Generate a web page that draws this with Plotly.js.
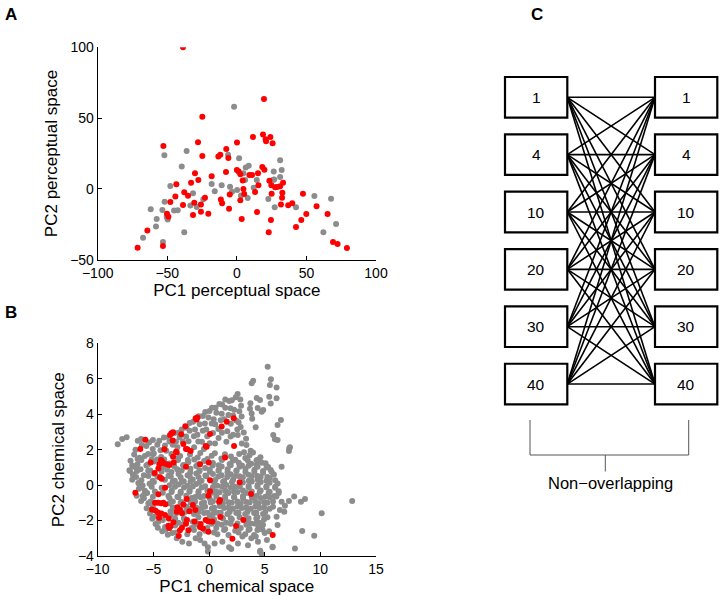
<!DOCTYPE html>
<html>
<head>
<meta charset="utf-8">
<script src="https://cdn.plot.ly/plotly-3.0.1.min.js"></script>
<style>html,body{margin:0;padding:0;background:#fff;}#chart{width:723px;height:602px;}</style>
</head>
<body>
<div id="chart"></div>
<script>
// ---------- Panel A: perceptual space ----------
const perceptualGray = [[-2.0,58.0],[-52.1,23.7],[-36.1,26.8],[-39.6,15.9],[-6.3,24.2],[1.6,21.6],[6.4,15.2],[8.5,16.4],[31.1,20.2],[32.2,13.3],[26.5,12.2],[31.1,8.4],[26.2,6.5],[0.2,-0.8],[-4.9,1.6],[-10.9,2.5],[-18.1,3.5],[-15.9,-1.7],[-31.5,-3.1],[-47.8,2.0],[-51.9,-9.0],[-53.5,-14.9],[-61.9,-14.4],[-57.6,-21.3],[-58.1,-26.5],[-67.4,-34.5],[-49.7,-21.6],[-50.4,-19.8],[-45.1,-15.3],[-42.5,-15.1],[-33.4,-11.7],[-28.8,-12.7],[-24.1,-7.3],[-37.8,-30.7],[-53.1,-37.5],[-3.5,-2.0],[3.0,-4.6],[7.8,-6.4],[12.1,0.9],[22.6,-7.1],[27.2,-13.0],[42.5,-13.0],[55.7,-5.0],[67.7,-6.9],[62.2,-30.7],[71.3,-24.8],[5.9,6.3],[4.7,11.0],[14.3,6.3],[26.9,6.7]];
const perceptualRed = [[-38.7,100],[19.5,63.5],[-24.8,51.0],[-52.8,30.3],[-27.9,32.9],[0.1,32.7],[11.6,36.7],[18.8,38.5],[20.7,35.0],[21.0,33.6],[24.1,36.7],[25.7,32.2],[-7.6,28.2],[-13.3,22.8],[-11.9,24.2],[-6.1,21.8],[-24.8,23.2],[-30.1,11.0],[-27.7,6.3],[-32.9,4.4],[-43.5,3.2],[-18.1,8.9],[-7.8,11.9],[0.0,13.3],[1.3,12.2],[2.5,10.3],[4.2,6.0],[4.7,-0.1],[9.0,9.8],[10.9,9.8],[15.2,11.0],[15.5,2.5],[18.3,15.5],[19.8,13.6],[23.4,5.8],[24.8,2.5],[27.5,1.1],[28.9,1.3],[31.1,1.8],[33.2,4.4],[32.7,-2.7],[32.5,-6.2],[31.7,-11.1],[25.0,-3.4],[24.5,-22.0],[22.9,-30.7],[14.5,-16.3],[13.1,-2.2],[5.3,-3.6],[2.5,-8.1],[3.5,-21.3],[-5.1,-3.9],[-5.6,-14.0],[-10.6,-10.2],[-11.5,-7.4],[-22.9,-6.2],[-20.5,-17.5],[-25.8,-16.1],[-31.5,-18.4],[-25.8,-11.1],[-30.6,-9.7],[-35.1,-4.8],[-37.8,-2.4],[-38.7,-11.4],[-44.2,-5.3],[-47.8,-9.3],[-50.2,-17.5],[-49.2,-19.6],[-53.1,-40.3],[-64.3,-29.3],[-71.3,-41.5],[36.9,-11.6],[39.8,-10.2],[47.5,-3.4],[49.9,-17.7],[46.3,-22.0],[42.5,-26.9],[57.3,-12.3],[65.2,-17.7],[69.1,-37.5],[72.4,-38.9],[79.1,-41.8]];

// ---------- Panel B: chemical space ----------
const chemicalGray = [
[-8.2,2.3],[-7.8,2.6],[-7.4,2.7],[-7.1,0.8],[-6.9,1.1],[-6.6,2.0],[-6.4,2.5],[-6.1,2.6],[-6.6,1.0],[-6.8,0.6],[-6.9,0.3],[-6.3,0.1],[-6.5,-0.6],[-6.1,-0.9],[-6.3,-0.2],[-5.8,-0.5],[-5.6,-1.3],[-5.3,-1.6],[-5.1,-1.9],[-4.8,-2.2],[-4.6,-2.4],[-4.2,-2.6],[-3.9,-2.5],[-3.7,-2.8],[-3.3,-2.7],[-2.9,-3.0],[-2.4,-3.2],[-1.8,-3.3],[-1.2,-3.0],[-0.8,-3.1],[-0.4,-3.3],[-0.1,-3.5],[-0.1,-3.75],[0.5,-3.3],[1.2,-3.2],[1.8,-3.5],[2.0,-3.6],[2.6,-3.3],[3.0,-2.9],[3.5,-3.4],[3.8,-3.0],[4.2,-2.9],[4.4,-3.2],[4.6,-3.7],[4.75,-3.9],[5.0,-2.7],[5.2,-3.1],[5.7,-3.5],[5.4,-2.6],[4.8,-2.5],[6.07,-1.78],[6.16,-2.25],[6.37,-1.41],[6.52,-0.94],[6.76,-1.50],[6.82,-1.16],[7.18,-0.90],[7.65,-0.65],[8.26,-0.94],[8.62,-0.78],[10.12,-1.59],[12.86,-0.90],[8.37,-2.59],[9.45,-2.86],[7.72,-3.57],[5.72,-3.48],[4.58,-3.76],
[5.27,6.68],[3.83,5.74],[3.97,5.89],[5.56,5.97],[5.47,5.65],[6.07,5.50],[2.57,5.14],[4.28,4.91],[4.58,4.80],[4.37,4.35],[4.87,4.24],[4.73,4.14],[5.41,4.99],[5.54,4.61],[6.07,4.90],[6.46,3.67],[6.16,3.39],[4.19,3.26],[5.77,2.83],[5.92,2.58],[6.16,2.54],[7.27,2.13],[7.21,2.08],[7.18,1.92],[6.52,1.04],[5.54,0.85],
[3.72,4.62],[3.68,4.31],[3.83,4.04],[3.88,3.74],[2.81,4.83],[2.88,4.47],[2.72,4.16],[2.93,3.87],[2.66,3.55],[2.84,3.28],[3.12,2.97],[2.58,2.83],[3.33,2.62],
[2.4,4.95],[2.05,4.78],[1.82,4.74],[1.46,4.83],[1.17,4.55],[0.93,4.58],[0.58,4.36],[0.27,4.37],[0.04,4.18],[-0.34,4.12],[-0.55,3.90],[-0.93,3.88],[-1.42,3.57],[-1.74,3.50],[-2.03,3.24],[-2.45,3.14],[-2.76,2.96],[-3.14,2.93],[-3.63,2.70],[-4.05,2.68],[-4.47,2.50],[-5.04,2.54],[-5.38,2.40],
[1.93,4.33],[1.46,4.36],[1.14,4.02],[0.66,4.08],[0.42,3.72],[-0.05,3.81],[-0.37,3.47],[-0.84,3.44],[-1.26,3.14],[-1.74,3.06],[-2.06,2.74],[-2.64,2.70],[-2.97,2.44],[-3.55,2.46],[-3.96,2.24],[-4.64,2.27],[-5.06,2.04],[-5.63,2.21],[-6.04,2.26],
[2.26,4.25],[2.16,3.93],[1.75,3.96],[1.37,3.72],[1.05,3.66],[0.56,3.43],[0.24,3.47],[-0.25,3.14],[-0.56,3.06],[-1.04,2.84],[-1.36,2.76],[-1.84,2.48],[-2.36,2.46],[-2.84,2.14],[-3.26,2.27],[-3.84,1.94],[-4.36,1.97],[-5.04,1.74],[-5.46,1.76],[-6.24,1.55],
[2.44,3.64],[1.96,3.46],[1.64,3.04],[1.16,2.95],[0.84,3.16],[0.36,2.94],[-0.16,2.76],[-0.64,2.44],[-0.96,2.46],[-1.34,2.14],[2.54,3.14],[2.16,2.84],[1.94,2.74],[1.56,2.44],[0.86,2.66],[0.54,2.34],[0.06,2.36],[-0.46,2.04],[2.94,2.34],[3.36,2.26],[3.74,1.94],[3.96,1.84],[4.44,1.44],[4.76,1.26],[3.14,1.86],
[-6.72,1.72],[-6.41,1.47],[-5.77,1.64],[-5.16,1.45],[-4.96,1.78],[-4.30,1.58],[-4.03,1.44],[-3.38,1.76],[-2.83,1.52],[-2.59,1.64],[-1.90,1.41],[-1.71,1.73],[-1.02,1.56],[-0.78,1.81],[-0.15,1.47],[0.24,1.66],[0.52,1.79],[1.11,1.50],[1.43,1.74],[1.97,1.61],[2.36,1.43],[2.71,1.75],[3.26,1.53],[3.64,1.68],[4.27,1.40],[4.62,1.57],
[-7.05,1.38],[-6.43,1.17],[-6.07,1.42],[-5.51,1.16],[-4.93,1.33],[-4.68,1.45],[-3.55,1.22],[-2.78,1.41],[-2.24,1.13],[-1.86,1.29],[-1.33,1.44],[-0.97,1.18],[-0.44,1.36],[0.35,1.25],[0.87,1.12],[1.16,1.42],[1.85,1.19],[2.13,1.37],[2.67,1.26],[2.96,1.10],[3.47,1.40],[3.79,1.21],[4.27,1.15],[4.54,1.36],[5.08,1.23],[5.31,1.02],
[-7.15,0.84],[-6.76,1.06],[-6.15,0.90],[-5.63,1.10],[-5.28,0.83],[-4.14,1.02],[-3.75,0.86],[-3.13,1.07],[-2.86,0.89],[-2.33,1.12],[-1.67,0.92],[-1.15,1.08],[-0.86,0.84],[-0.35,0.97],[0.06,0.88],[0.33,1.11],[0.87,0.85],[1.14,1.05],[1.67,0.90],[1.95,1.12],[2.46,0.82],[2.74,1.03],[3.28,0.91],[3.55,1.09],[4.08,0.86],[4.36,1.04],[4.85,0.80],[5.17,0.99],[5.63,0.74],
[-6.84,0.58],[-6.47,0.79],[-5.85,0.55],[-5.46,0.81],[-4.94,0.64],[-4.26,0.77],[-3.64,0.53],[-3.37,0.74],[-2.74,0.63],[-2.46,0.82],[-1.93,0.56],[-1.68,0.73],[-1.14,0.65],[-0.86,0.78],[-0.33,0.54],[0.07,0.75],[0.35,0.62],[0.86,0.81],[1.13,0.55],[1.66,0.72],[1.94,0.61],[2.47,0.79],[2.74,0.50],[3.27,0.74],[3.55,0.58],[4.07,0.76],[4.36,0.52],[4.86,0.69],[5.24,0.46],[5.83,0.60],
[-6.55,0.45],[-6.08,0.28],[-5.45,0.52],[-5.06,0.24],[-4.63,0.47],[-3.96,0.30],[-3.43,0.48],[-3.07,0.25],[-2.55,0.44],[-2.27,0.22],[-1.74,0.50],[-1.46,0.31],[-0.94,0.46],[-0.67,0.24],[-0.24,0.50],[0.56,0.29],[0.84,0.49],[1.36,0.23],[1.64,0.45],[2.16,0.30],[2.35,0.52],[3.04,0.44],[3.57,0.25],[3.85,0.50],[4.36,0.31],[4.64,0.46],[5.16,0.24],[5.46,0.40],[5.94,0.27],
[-6.35,0.12],[-5.96,-0.02],[-5.34,0.07],[-4.95,0.18],[-3.55,-0.01],[-3.26,0.21],[-2.74,0.04],[-2.46,0.17],[-1.95,-0.03],[-1.66,0.20],[-1.15,0.06],[-0.86,0.16],[-0.35,-0.06],[0.46,0.15],[0.74,-0.04],[1.26,0.19],[1.55,0.01],[2.06,0.16],[2.35,-0.10],[3.04,0.14],[3.56,-0.05],[3.84,0.21],[4.36,0.00],[4.65,0.17],[5.15,-0.06],[5.44,0.13],[5.95,-0.10],[6.16,0.09],
[-6.14,-0.14],[-5.76,-0.32],[-5.15,-0.10],[-4.86,-0.36],[-4.25,-0.15],[-3.35,-0.31],[-3.06,-0.09],[-2.54,-0.37],[-2.25,-0.13],[-1.74,-0.30],[-1.45,-0.08],[-0.94,-0.35],[-0.65,-0.14],[-0.15,-0.32],[0.35,-0.12],[0.64,-0.37],[1.16,-0.10],[1.45,-0.31],[1.95,-0.15],[2.25,-0.38],[2.76,-0.08],[3.05,-0.30],[3.56,-0.13],[3.84,-0.36],[4.35,-0.09],[4.65,-0.31],[5.16,-0.14],[5.45,-0.37],[5.94,-0.15],[6.26,-0.35],
[-5.95,-0.62],[-5.56,-0.44],[-5.04,-0.66],[-4.15,-0.43],[-3.65,-0.61],[-3.36,-0.39],[-2.84,-0.66],[-2.55,-0.44],[-2.04,-0.60],[-1.76,-0.38],[-1.24,-0.67],[-0.95,-0.45],[-0.44,-0.62],[0.26,-0.43],[0.66,-0.65],[0.95,-0.40],[1.45,-0.61],[1.75,-0.44],[2.26,-0.67],[2.55,-0.39],[3.05,-0.62],[3.35,-0.45],[4.25,-0.61],[4.55,-0.39],[5.06,-0.66],[5.35,-0.44],[5.86,-0.61],[6.25,-0.45],
[-5.85,-0.74],[-5.25,-0.92],[-3.55,-0.73],[-3.25,-0.93],[-2.75,-0.69],[-2.45,-0.96],[-1.55,-0.73],[-1.25,-0.92],[-0.75,-0.68],[-0.45,-0.97],[0.05,-0.74],[0.35,-0.91],[1.45,-0.73],[1.75,-0.97],[2.25,-0.69],[2.55,-0.92],[3.05,-0.74],[3.35,-0.96],[3.85,-0.70],[4.15,-0.91],[4.65,-0.73],[4.95,-0.97],[5.45,-0.69],[5.75,-0.92],[6.05,-0.65],
[-5.45,-1.03],[-5.05,-1.22],[-3.55,-1.04],[-3.25,-1.26],[-2.55,-0.99],[-2.05,-1.22],[-1.65,-0.99],[-1.15,-1.27],[-0.65,-1.04],[-0.35,-1.22],[0.15,-0.98],[0.45,-1.27],[0.95,-1.18],[1.25,-1.03],[1.75,-1.27],[2.05,-0.99],[2.55,-1.22],[2.85,-1.03],[3.35,-1.27],[3.65,-0.98],[4.15,-1.22],[4.45,-1.03],[4.95,-1.26],[5.25,-0.99],[5.75,-1.22],
[-5.15,-1.38],[-3.45,-1.47],[-3.15,-1.29],[-2.15,-1.52],[-1.65,-1.33],[-0.95,-1.52],[-0.65,-1.29],[-0.15,-1.56],[0.25,-1.33],[0.55,-1.52],[1.05,-1.56],[1.35,-1.29],[1.85,-1.52],[2.15,-1.33],[2.65,-1.56],[2.95,-1.29],[3.45,-1.52],[3.75,-1.33],[4.25,-1.56],[4.55,-1.29],[5.05,-1.52],[5.45,-1.33],
[-4.85,-1.77],[-3.45,-1.68],[-2.95,-1.59],[-2.25,-1.87],[-1.35,-1.63],[-0.95,-1.82],[-0.45,-1.58],[0.05,-1.82],[0.35,-1.63],[0.85,-1.58],[1.15,-1.82],[1.65,-1.63],[1.95,-1.87],[2.45,-1.58],[2.75,-1.82],[3.25,-1.63],[3.55,-1.87],[4.05,-1.58],[4.35,-1.82],[4.85,-1.63],[5.25,-1.82],
[-4.55,-2.07],[-4.15,-1.97],[-3.05,-1.88],[-2.75,-2.12],[-2.25,-1.88],[-1.45,-2.07],[-1.05,-2.17],[0.45,-1.93],[0.75,-2.17],[1.25,-1.88],[1.55,-2.12],[2.05,-1.93],[2.55,-2.17],[3.45,-1.93],[3.75,-2.17],[4.25,-1.88],[4.55,-2.12],[4.95,-1.93],
[-3.95,-2.37],[-3.05,-2.28],[-2.25,-2.18],[-1.55,-2.42],[-1.25,-2.23],[-0.15,-2.42],[0.25,-2.18],[0.65,-2.42],[1.15,-2.23],[1.45,-2.47],[1.95,-2.18],[2.85,-2.42],[3.35,-2.23],[3.65,-2.47],[4.15,-2.18],[4.45,-2.42],[4.85,-2.23],
[-2.95,-2.67],[-1.95,-2.77],[-1.35,-2.53],[-0.85,-2.77],[-0.35,-2.58],[0.45,-2.67],[0.75,-2.77],[1.35,-2.53],[1.75,-2.82],[2.35,-2.58],[2.65,-2.67],[3.25,-2.77],[3.55,-2.53],[4.05,-2.82],[4.35,-2.53]
];
const chemicalRed = [[-5.72,2.56],[-6.17,2.04],[-6.62,-0.43],[-5.24,1.27],[-4.88,0.68],[-4.31,1.42],[-4.19,1.32],[-4.07,1.23],[-4.46,1.17],[-3.80,1.17],[-3.56,1.13],[-4.55,0.94],[-4.40,0.44],[-4.25,0.36],[-3.95,-0.15],[-4.55,-0.52],[-4.85,-1.00],[-4.58,-1.00],[-4.31,-1.02],[-4.10,-0.99],[-3.92,-1.08],[-5.12,-1.37],[-4.82,-1.43],[-4.58,-1.55],[-4.28,-1.60],[-3.95,-1.69],[-4.49,-1.84],[-3.62,-1.88],[-3.65,-2.29],[-3.58,-2.42],[-3.47,-2.33],[-2.43,-2.40],[-2.61,-2.55],[-2.72,-2.87],[-3.17,1.27],[-3.23,1.60],[-2.90,1.85],[-3.26,2.51],[-3.50,2.83],[-3.38,2.92],[-3.23,2.98],[-2.49,2.87],[-2.13,3.32],[-1.20,3.77],[-1.05,3.82],[-1.12,3.70],[-2.31,2.32],[-2.07,2.04],[-1.65,1.92],[-1.95,2.02],[-4.01,2.02],[-2.96,1.88],[-0.21,2.17],[1.44,1.56],[-2.07,1.04],[-0.81,1.17],[-0.03,1.28],[0.09,0.28],[-2.01,-0.79],[0.09,-0.34],[-0.06,-0.60],[0.99,-0.84],[0.90,-0.94],[-2.84,-1.25],[-2.61,-1.37],[-2.43,-1.59],[-1.77,-1.48],[-1.98,-1.97],[-2.07,-2.18],[-1.23,-1.41],[-0.75,-2.20],[-0.81,-2.36],[-0.30,-1.97],[-0.06,-2.06],[-0.06,-2.63],[-0.30,2.21],[0.09,2.88],[1.02,-1.80],[1.59,3.58],[1.14,3.30],[2.22,3.77],[2.25,2.21],[2.75,0.16],[3.77,-0.50],[3.08,-1.97],[2.43,-2.31],[2.10,-3.02],[5.72,-2.82],[-1.45,-1.12],[-1.30,-2.05],[-2.90,-1.50],[-0.55,-2.45],[-1.85,-2.55],[-3.20,-2.10],[-2.30,-1.10],[0.30,-2.05]];

// ---------- Panel C: window sizes ----------
const windowLabels = ['1','4','10','20','30','40'];
const bracketLabel = 'Non\u2212overlapping';

// ---------- layout constants (pixel frame of panel C) ----------
const C = {leftX0:505, leftX1:567.3, rightX0:655, rightX1:717.3, top:97.3, step:57.35, half:20.3};
const cy = i => C.top + i*C.step;

const FONT = 'Liberation Sans, Arial, Helvetica, sans-serif';
const col = (arr,k) => arr.map(p => p[k]);

const traces = [
  {x: col(perceptualGray,0), y: col(perceptualGray,1), xaxis:'x', yaxis:'y', mode:'markers', type:'scatter',
   marker:{color:'#8c8c8c', size:6}},
  {x: col(perceptualRed,0), y: col(perceptualRed,1), xaxis:'x', yaxis:'y', mode:'markers', type:'scatter',
   marker:{color:'#ff0000', size:6}},
  {x: col(chemicalGray,0), y: col(chemicalGray,1), xaxis:'x2', yaxis:'y2', mode:'markers', type:'scatter',
   marker:{color:'#8c8c8c', size:6}},
  {x: col(chemicalRed,0), y: col(chemicalRed,1), xaxis:'x2', yaxis:'y2', mode:'markers', type:'scatter',
   marker:{color:'#ff0000', size:6}}
];

// all-to-all connections between left and right windows
const lx = [], ly = [];
windowLabels.forEach((a,i) => windowLabels.forEach((b,j) => {
  lx.push(C.leftX1, C.rightX0, null); ly.push(cy(i), cy(j), null);
}));
traces.push({x:lx, y:ly, xaxis:'x3', yaxis:'y3', mode:'lines', type:'scatter',
  line:{color:'#000', width:1.6}, hoverinfo:'skip'});

const shapes = [];
const annotations = [];
windowLabels.forEach((lab,i) => {
  [[C.leftX0,C.leftX1],[C.rightX0,C.rightX1]].forEach(([x0,x1]) => {
    shapes.push({type:'rect', xref:'x3', yref:'y3', x0:x0, x1:x1, y0:cy(i)-C.half, y1:cy(i)+C.half,
      line:{color:'#000', width:2.2}, fillcolor:'#fff'});
    annotations.push({xref:'x3', yref:'y3', x:(x0+x1)/2, y:cy(i), text:lab, showarrow:false,
      font:{family:FONT, size:15.5, color:'#000'}, xanchor:'center', yanchor:'middle'});
  });
});
// bracket
shapes.push({type:'path', xref:'x3', yref:'y3', path:'M530,420 L530,455 L688.7,455 L688.7,420', line:{color:'#555', width:1}});
shapes.push({type:'line', xref:'x3', yref:'y3', x0:605.3, x1:605.3, y0:455, y1:471.5, line:{color:'#555', width:1}});
annotations.push({xref:'x3', yref:'y3', x:610, y:483, text:bracketLabel, showarrow:false,
  font:{family:FONT, size:16.5, color:'#000'}, xanchor:'center', yanchor:'middle'});

// panel letters
[['A',11,14],['B',11,312],['C',537,14]].forEach(([t,px,py]) => {
  annotations.push({xref:'paper', yref:'paper', x:px/723, y:1-py/602, text:'<b>'+t+'</b>', showarrow:false,
    font:{family:FONT, size:17, color:'#000'}, xanchor:'center', yanchor:'middle'});
});

const axBase = {showline:true, linecolor:'#000', linewidth:1, ticks:'inside', ticklen:4, tickcolor:'#000',
  showgrid:false, zeroline:false, mirror:false, tickfont:{family:FONT, size:14, color:'#000'}, fixedrange:true};

const layout = {
  width:723, height:602, margin:{l:0,r:0,t:0,b:0}, paper_bgcolor:'#fff', plot_bgcolor:'#fff',
  showlegend:false, font:{family:FONT},
  xaxis: Object.assign({}, axBase, {domain:[97.7/723, 376/723], range:[-100,100], tickvals:[-100,-50,0,50,100], anchor:'y',
    title:{text:'PC1 perceptual space', font:{family:FONT, size:17, color:'#000'}, standoff:4}}),
  yaxis: Object.assign({}, axBase, {domain:[1-259.7/602, 1-47.3/602], range:[-50,100], tickvals:[-50,0,50,100], anchor:'x',
    title:{text:'PC2 perceptual space', font:{family:FONT, size:17, color:'#000'}, standoff:8}}),
  xaxis2: Object.assign({}, axBase, {domain:[97.7/723, 376/723], range:[-10,15], tickvals:[-10,-5,0,5,10,15], anchor:'y2',
    title:{text:'PC1 chemical space', font:{family:FONT, size:17, color:'#000'}, standoff:4}}),
  yaxis2: Object.assign({}, axBase, {domain:[1-556/602, 1-343.3/602], range:[-4,8], tickvals:[-4,-2,0,2,4,6,8], anchor:'x2',
    title:{text:'PC2 chemical space', font:{family:FONT, size:17, color:'#000'}, standoff:8}}),
  xaxis3: {domain:[480/723, 1], range:[480,723], visible:false, anchor:'y3', fixedrange:true},
  yaxis3: {domain:[1-500/602, 1-30/602], range:[500,30], visible:false, anchor:'x3', fixedrange:true},
  shapes: shapes, annotations: annotations
};

Plotly.newPlot('chart', traces, layout, {displayModeBar:false, staticPlot:true});
</script>
</body>
</html>
